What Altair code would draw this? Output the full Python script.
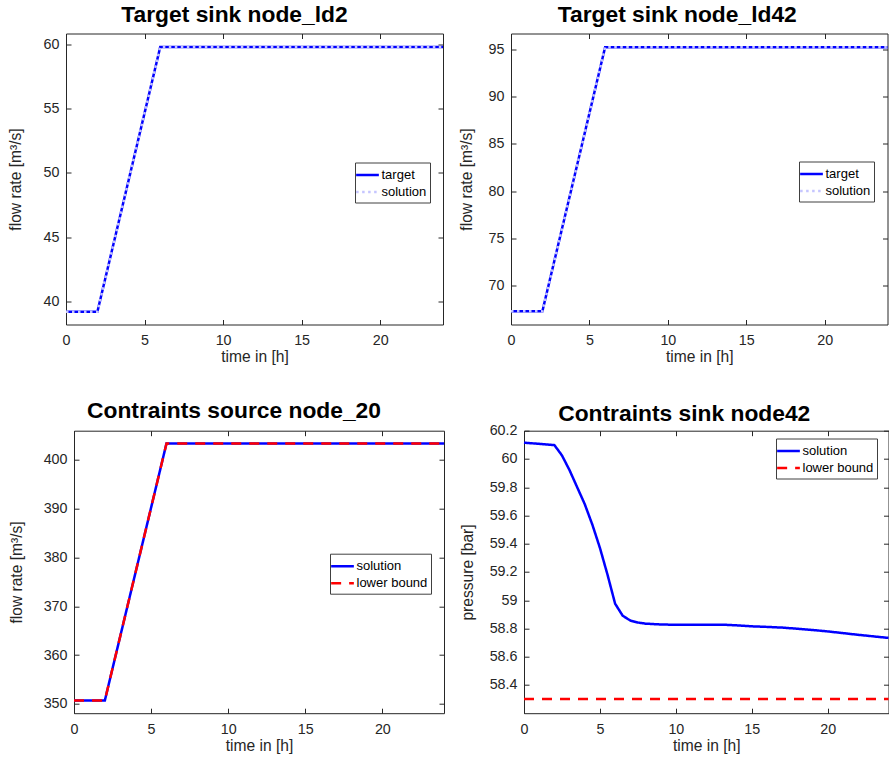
import altair as alt
import pandas as pd

FONT = "Liberation Sans"
AXIS_GRAY = "#262626"

# ---- data -------------------------------------------------------------
# time breakpoints [h] of the flow profiles
t_flow = [0, 2, 6, 24]
target_ld2 = [39.2, 39.2, 59.8, 59.8]
solution_ld2 = [39.2, 39.2, 59.8, 59.8]
target_ld42 = [67.25, 67.25, 95.25, 95.25]
solution_ld42 = [67.25, 67.25, 95.25, 95.25]
solution_src20 = [350.7, 350.7, 403.4, 403.4]
lower_src20 = [350.7, 350.7, 403.4, 403.4]

# pressure at sink node 42 [bar]
t_press = [0, 1, 2, 2.5, 3, 3.5, 4, 4.5, 5, 5.5, 6, 6.5, 7, 7.5, 8, 9, 10,
           11, 12, 13, 14, 15, 16, 17, 18, 19, 20, 21, 22, 23, 24]
p_node42 = [60.115, 60.107, 60.098, 60.025, 59.92, 59.80, 59.68, 59.535,
            59.37, 59.18, 58.975, 58.89, 58.856, 58.842, 58.834, 58.828,
            58.826, 58.826, 58.827, 58.827, 58.822, 58.815, 58.811, 58.806,
            58.798, 58.789, 58.779, 58.767, 58.755, 58.744, 58.733]
p_lower = [58.3, 58.3]
t_lower = [0, 24]

# tick values
x_ticks = [0, 5, 10, 15, 20]
y_ticks_ld2 = [40, 45, 50, 55, 60]
y_ticks_ld42 = [70, 75, 80, 85, 90, 95]
y_ticks_src20 = [350, 360, 370, 380, 390, 400]
y_ticks_p42 = [58.4, 58.6, 58.8, 59.0, 59.2, 59.4, 59.6, 59.8, 60.0, 60.2]

# legend key: a short horizontal stroke drawn as a custom symbol path
LEGEND_KEY = "M-1.42,0H1.42"


def frame(t, v, name):
    return pd.DataFrame({"t": t, "v": v, "series": name})


def panel(series, styles, title, title_dx, title_offset, y_title, y_title_x,
          y_domain, y_ticks, y_format, width, height, legend_xy):
    names = [s[2] for s in series]
    colors = [st[0] for st in styles]
    dashes = [st[1] for st in styles]

    legend = alt.Legend(
        orient="none", legendX=legend_xy[0], legendY=legend_xy[1],
        title=None, symbolType=LEGEND_KEY, symbolSize=256,
        symbolStrokeWidth=2.5, symbolFillColor="transparent",
        labelFont=FONT, labelFontSize=13,
        labelColor="#000000", strokeColor="#404040", fillColor="#ffffff",
        padding=3, rowPadding=-2.5, labelOffset=4.5,
    )
    x_scale = alt.Scale(domain=[0, 24], nice=False, zero=False)
    y_scale = alt.Scale(domain=y_domain, nice=False, zero=False)

    x_axis = alt.Axis(values=x_ticks, title="time in [h]", offset=-5,
                      tickSize=5, domain=False, grid=False, labelPadding=9,
                      titlePadding=2, labelFlush=False, minExtent=0)
    y_axis = alt.Axis(values=y_ticks, title=y_title, format=y_format,
                      offset=-5, tickSize=5, domain=False, grid=False,
                      labelPadding=7, titleX=y_title_x, minExtent=0)

    lines = []
    for (t, v, name) in series:
        df = frame(t, v, name)
        lines.append(
            alt.Chart(df).mark_line(strokeWidth=2.5, strokeCap="butt").encode(
                x=alt.X("t:Q", scale=x_scale, axis=x_axis),
                y=alt.Y("v:Q", scale=y_scale, axis=y_axis),
                color=alt.Color("series:N", scale=alt.Scale(domain=names, range=colors),
                                legend=legend),
                strokeDash=alt.StrokeDash("series:N",
                                          scale=alt.Scale(domain=names, range=dashes),
                                          legend=legend),
            )
        )
    curves = alt.layer(*lines)

    # inward ticks on the top and right edges of the box
    t0, v0, _ = series[0]
    box_ticks = alt.Chart(frame(t0, v0, names[0])).mark_line(opacity=0).encode(
        x=alt.X("t:Q", scale=x_scale,
                axis=alt.Axis(orient="top", values=x_ticks, labels=False, title=None,
                              offset=-5, tickSize=5, domain=False, grid=False,
                              minExtent=0)),
        y=alt.Y("v:Q", scale=y_scale,
                axis=alt.Axis(orient="right", values=y_ticks, labels=False, title=None,
                              offset=-5, tickSize=5, domain=False, grid=False,
                              minExtent=0)),
    )

    return alt.layer(curves, box_ticks).resolve_axis(x="independent", y="independent").properties(
        width=width, height=height,
        title=alt.TitleParams(title, font=FONT, fontSize=22.8, fontWeight="bold",
                              color="#000000", anchor="middle", frame="group",
                              offset=title_offset, dx=title_dx),
    )


def row_anchor():
    # empty 1px view that starts each row, so the panels after it are
    # placed by their full extent (axis titles included)
    return alt.Chart(pd.DataFrame({"k": [0]})).mark_point(size=0, opacity=0).encode(
        x=alt.value(0), y=alt.value(0)
    ).properties(width=1, height=1, view=alt.ViewBackground(stroke="transparent"))


BLUE = "#0000ff"
LAVENDER = "#c5c5ff"
RED = "#ff0000"
SOLID = [1, 0]
DOTTED = [2.5, 3.5]
DASHED = [10, 8]

p1 = panel(
    [(t_flow, target_ld2, "target"), (t_flow, solution_ld2, "solution")],
    [(BLUE, SOLID), (LAVENDER, DOTTED)],
    "Target sink node_ld2", -20, 6.0, "flow rate [m³/s]", -47.4, [38.2, 60.85],
    y_ticks_ld2, "d", 377, 291, (289, 129),
)
p2 = panel(
    [(t_flow, target_ld42, "target"), (t_flow, solution_ld42, "solution")],
    [(BLUE, SOLID), (LAVENDER, DOTTED)],
    "Target sink node_ld42", -22, 6.0, "flow rate [m³/s]", -41.3, [65.85, 96.7],
    y_ticks_ld42, "d", 376.5, 291, (288, 128),
)
p3 = panel(
    [(t_flow, solution_src20, "solution"), (t_flow, lower_src20, "lower bound")],
    [(BLUE, SOLID), (RED, DASHED)],
    "Contraints source node_20", -25, 7.1, "flow rate [m³/s]", -54.7, [348.1, 406.0],
    y_ticks_src20, "d", 370, 282.5, (256, 123),
)
p4 = panel(
    [(t_press, p_node42, "solution"), (t_lower, p_lower, "lower bound")],
    [(BLUE, SOLID), (RED, DASHED)],
    "Contraints sink node42", -22, -2.3, "pressure [bar]", -53.3, [58.2, 60.2],
    y_ticks_p42, ".1~f", 364.5, 282.5, (252, 7.8),
)

top_row = alt.hconcat(
    row_anchor(),
    alt.hconcat(p1, p2, spacing=10).resolve_scale(color="independent", strokeDash="independent"),
    spacing=0,
).resolve_scale(color="independent", strokeDash="independent")
bottom_row = alt.hconcat(
    row_anchor(),
    alt.hconcat(p3, p4, spacing=10).resolve_scale(color="independent", strokeDash="independent"),
    spacing=0,
).resolve_scale(color="independent", strokeDash="independent")

chart = alt.vconcat(top_row, bottom_row, spacing=33.2).resolve_scale(
    color="independent", strokeDash="independent"
).properties(
    padding={"left": 5.0, "top": 3.5, "right": -5, "bottom": 0},
    background="#ffffff",
).configure_view(
    stroke=AXIS_GRAY, strokeWidth=1,
).configure_axis(
    labelFont=FONT, labelFontSize=14.3, labelColor=AXIS_GRAY,
    titleFont=FONT, titleFontSize=15.6, titleColor=AXIS_GRAY, titleFontWeight="normal",
    tickColor=AXIS_GRAY, tickWidth=1,
)

chart.save("out.html", embed_options={"renderer": "svg", "actions": False})
